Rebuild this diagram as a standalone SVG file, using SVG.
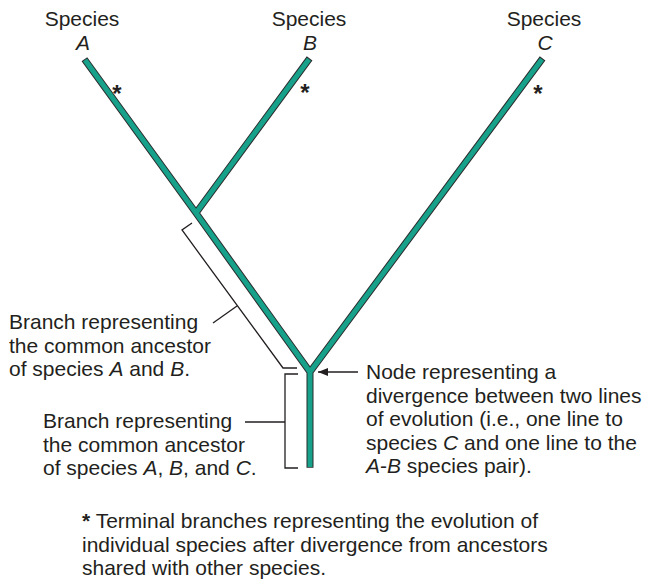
<svg xmlns="http://www.w3.org/2000/svg" width="651" height="586" viewBox="0 0 651 586">
<defs>
<style>
text{font-family:"Liberation Sans",Arial,sans-serif;font-size:21px;fill:#231f20}
.i{font-style:italic}
.m{text-anchor:middle}
.b{font-weight:bold}
.ast{font-weight:bold;font-size:24px;text-anchor:middle}
.out{fill:none;stroke:#2b2b2b;stroke-width:7;stroke-linecap:butt;stroke-linejoin:miter}
.in{fill:none;stroke:#17a08a;stroke-width:5;stroke-linecap:butt;stroke-linejoin:miter}
.br{fill:none;stroke:#231f20;stroke-width:1.3}
</style>
<marker id="ah" viewBox="0 0 10 8" refX="10" refY="4" markerWidth="10" markerHeight="8" markerUnits="userSpaceOnUse" orient="auto">
<path d="M0,0 L10,4 L0,8 Z" fill="#231f20"/>
</marker>
</defs>
<rect width="651" height="586" fill="#fff"/>
<g id="tree">
<path class="out" d="M84.4,59.2 L196,213 L310,372 M309.6,58.4 L196,213 M542.6,58.4 L310,372 M310,372 V467.8"/>
<path class="in" d="M85,60 L196,213 L310,372 M309,59.2 L196,213 M542,59.2 L310,372 M310,372 V467"/>
</g>
<g id="labels-species">
<text class="m" x="82" y="26">Species</text>
<text class="m i" x="83" y="50">A</text>
<text class="m" x="309" y="26">Species</text>
<text class="m i" x="310" y="50">B</text>
<text class="m" x="544" y="26">Species</text>
<text class="m i" x="545" y="50">C</text>
</g>
<g id="asterisks">
<text class="ast" x="117" y="102">*</text>
<text class="ast" x="305" y="101">*</text>
<text class="ast" x="538" y="102">*</text>
</g>
<g id="connectors">
<path class="br" d="M192,223 L182,230 L283,368 H297"/>
<path class="br" d="M213,323 L237,306"/>
<path class="br" d="M298,374 H285 V468 H298"/>
<path class="br" d="M245,422 H285"/>
<path class="br" d="M358,372 H318" marker-end="url(#ah)"/>
</g>
<g id="label-ab">
<text x="9" y="329">Branch representing</text>
<text x="9" y="352.5">the common ancestor</text>
<text x="9" y="376">of species <tspan class="i">A</tspan> and <tspan class="i">B</tspan>.</text>
</g>
<g id="label-abc">
<text x="43" y="428">Branch representing</text>
<text x="43" y="451.5">the common ancestor</text>
<text x="43" y="475">of species <tspan class="i">A</tspan>, <tspan class="i">B</tspan>, and <tspan class="i">C</tspan>.</text>
</g>
<g id="label-node">
<text x="366" y="379">Node representing a</text>
<text x="366" y="402.5">divergence between two lines</text>
<text x="366" y="426">of evolution (i.e., one line to</text>
<text x="366" y="449.5">species <tspan class="i">C</tspan> and one line to the</text>
<text x="366" y="472.5"><tspan class="i">A</tspan>-<tspan class="i">B</tspan> species pair).</text>
</g>
<g id="footnote">
<text x="82" y="528"><tspan class="b">*</tspan> Terminal branches representing the evolution of</text>
<text x="82" y="551.5">individual species after divergence from ancestors</text>
<text x="82" y="575">shared with other species.</text>
</g>
</svg>
